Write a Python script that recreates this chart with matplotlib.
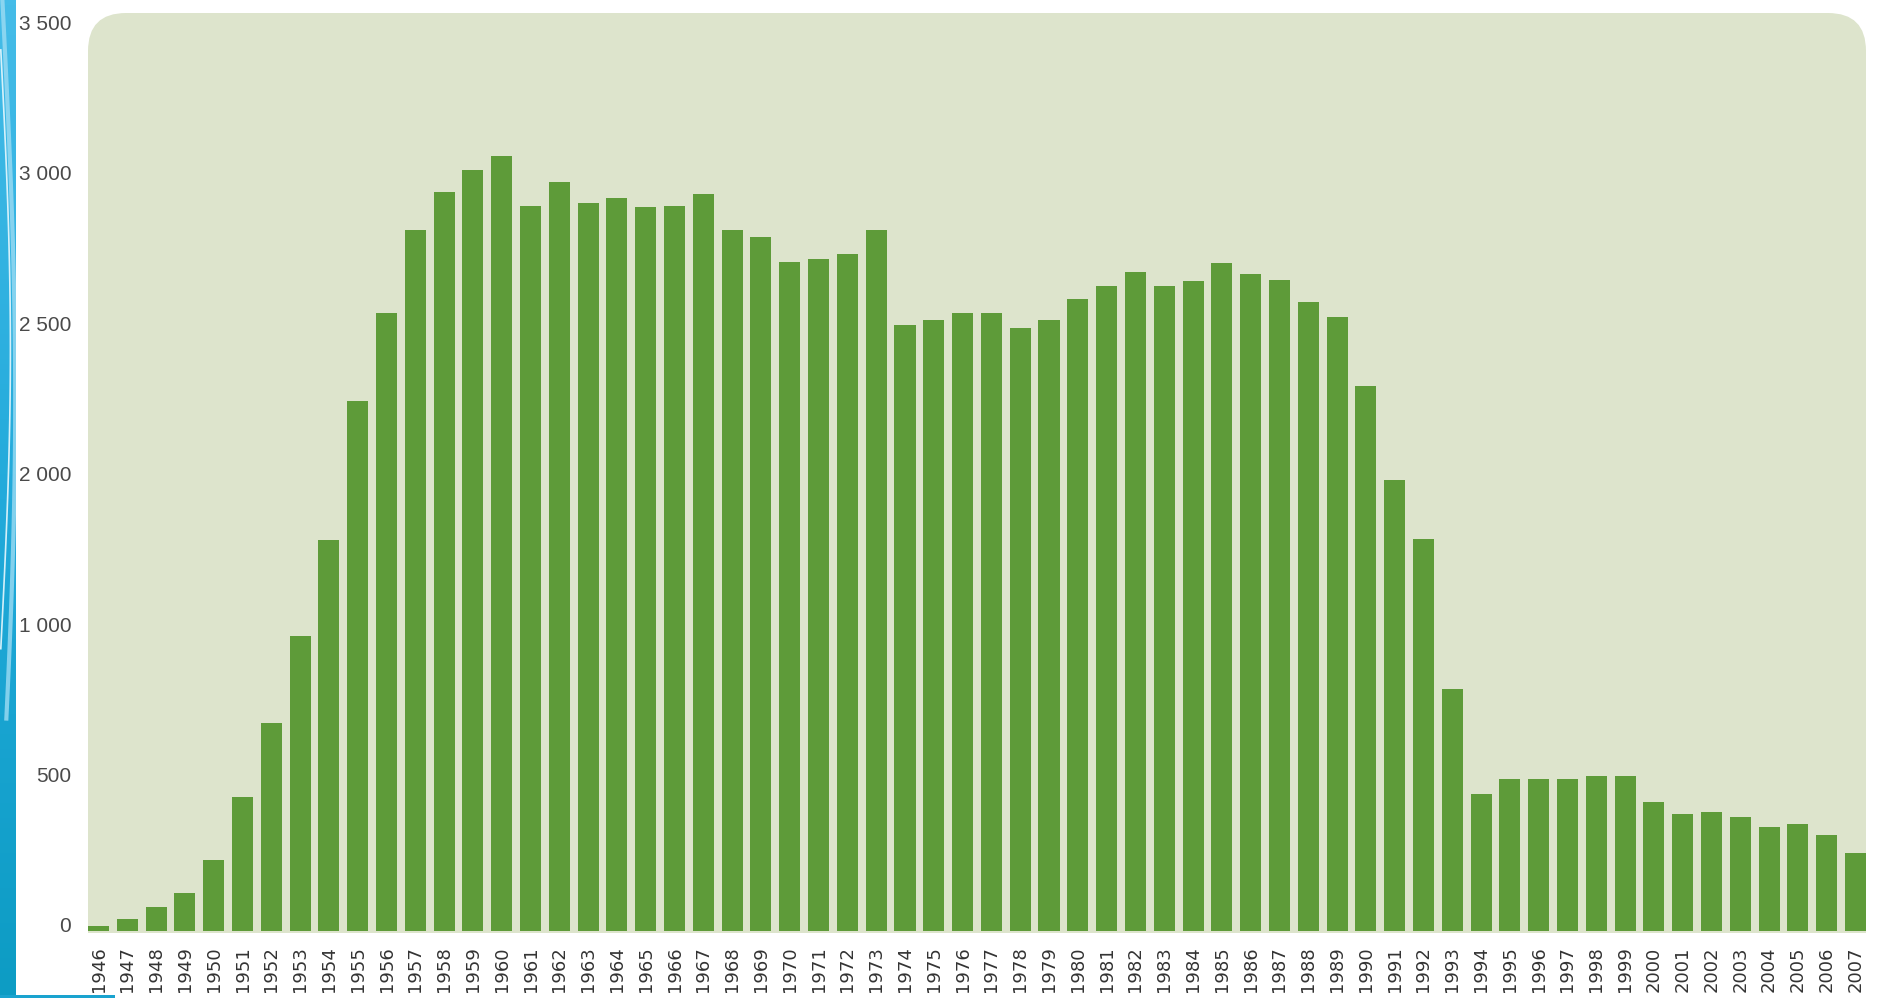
import numpy as np
import matplotlib
matplotlib.use('Agg')
import matplotlib.pyplot as plt
import matplotlib.transforms as mtransforms
from matplotlib.patches import FancyBboxPatch, Rectangle

# data
years = list(range(1946, 2008))
values = [15, 40, 80, 125, 235, 445, 690, 980, 1600, 2260,
          2555, 2830, 2955, 3030, 3075, 2910, 2990, 2920, 2935, 2905,
          2910, 2950, 2830, 2805, 2725, 2735, 2750, 2830, 2515, 2530,
          2555, 2555, 2505, 2530, 2600, 2645, 2690, 2645, 2660, 2720,
          2685, 2665, 2590, 2540, 2310, 2000, 1605, 805, 455, 505,
          505, 505, 515, 515, 430, 390, 395, 380, 345, 355,
          320, 260]
tick_values = [0, 500, 1000, 2000, 2500, 3000, 3500]
tick_labels = ['0', '500', '1 000', '2 000', '2 500', '3 000', '3 500']

# the original axis is not linear: the 1 000 - 2 000 step has the same height as a 500 step
real_pts = [-1e6, 0, 1000, 2000, 1e6]
draw_pts = [-1e6, 0, 1000, 1500, 1e6 - 500]


def forward(v):
    return np.interp(v, real_pts, draw_pts)


def inverse(d):
    return np.interp(d, draw_pts, real_pts)


W, H = 1878, 998
fig = plt.figure(figsize=(W / 100, H / 100), dpi=100)
fig.patch.set_facecolor('white')

ax_l, ax_r, ax_b, ax_t = 88, 1866, 931, 13
ax = fig.add_axes([ax_l / W, (H - ax_b) / H, (ax_r - ax_l) / W, (ax_b - ax_t) / H])
ax.set_facecolor('none')

# rounded background panel, square at the bottom
bg = '#dde4cc'
panel = FancyBboxPatch((ax_l / 100, (H - ax_b) / 100), (ax_r - ax_l) / 100, (ax_b - ax_t) / 100,
                       boxstyle='round,pad=0,rounding_size=0.38', transform=fig.dpi_scale_trans,
                       facecolor=bg, edgecolor='none', zorder=-2)
fig.add_artist(panel)
fig.add_artist(Rectangle((ax_l / 100, (H - ax_b - 2) / 100), (ax_r - ax_l) / 100, 2.0,
                         transform=fig.dpi_scale_trans, facecolor=bg, edgecolor='none', zorder=-2))

x = np.arange(len(years))
bar_w = 0.73
ax.bar(x, values, width=bar_w, color='#5e9b39', edgecolor='none', zorder=2)

ax.set_yscale('function', functions=(forward, inverse))
ax.set_ylim(0, 3551)
ax.set_xlim(-bar_w / 2, len(years) - 1 + bar_w / 2)

ax.set_yticks(tick_values)
ax.set_yticklabels(tick_labels, fontsize=15, color='#4a4a4a', family='Liberation Sans')
ax.minorticks_off()
ax.set_xticks(x)
ax.set_xticklabels([str(y) for y in years], rotation=90, fontsize=13, color='#333333',
                   family='DejaVu Sans')
ax.tick_params(axis='y', length=0, pad=12)
ax.tick_params(axis='x', length=0, pad=11)

# labels sit a little above the value they mark
shift = mtransforms.ScaledTranslation(0, 0.06, fig.dpi_scale_trans)
for lab in ax.get_yticklabels():
    lab.set_transform(lab.get_transform() + shift)

for s in ax.spines.values():
    s.set_visible(False)

# blue slide decoration on the left edge
deco = fig.add_axes([0, 0, 16 / W, 1])
grad = np.linspace(0, 1, 200).reshape(-1, 1)
cmap = matplotlib.colors.LinearSegmentedColormap.from_list('deco', ['#0d9cc4', '#22aadb', '#45bce8'])
deco.imshow(grad, aspect='auto', cmap=cmap, origin='lower', extent=(0, 1, 0, 1))
t = np.linspace(0, 1, 60)
deco.plot(0.15 + 0.8 * np.sin(t * np.pi * 0.9), 1.0 - 0.72 * t, color='#9ddcf3', lw=3, alpha=0.8)
deco.plot(0.05 + 0.6 * np.sin(t * np.pi), 0.95 - 0.6 * t, color='#e8f8fd', lw=1.2, alpha=0.9)
deco.set_xlim(0, 1)
deco.set_ylim(0, 1)
deco.axis('off')
fig.add_artist(Rectangle((0, 0), 115 / W, 3 / H, transform=fig.transFigure,
                         facecolor='#1aa3cf', edgecolor='none'))

fig.savefig('out.png', dpi=100)
